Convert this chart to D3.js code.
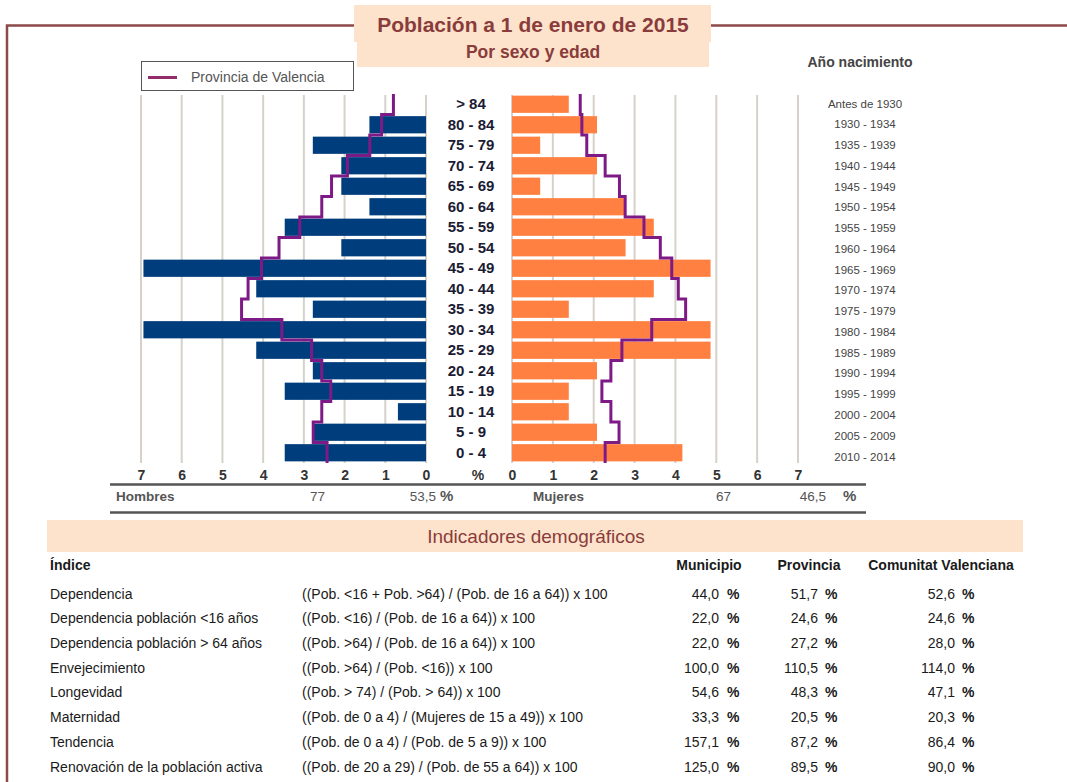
<!DOCTYPE html>
<html>
<head>
<meta charset="utf-8">
<script src="https://cdn.jsdelivr.net/npm/d3@7"></script>
<style>
  body { margin: 0; background: #fff; }
  svg text { font-family: "Liberation Sans", Arial, sans-serif; }
</style>
</head>
<body>
<div id="chart"></div>
<script>
// piramide de poblacion + indicadores

var ageGroups = ["> 84", "80 - 84", "75 - 79", "70 - 74", "65 - 69", "60 - 64", "55 - 59", "50 - 54", "45 - 49",
                 "40 - 44", "35 - 39", "30 - 34", "25 - 29", "20 - 24", "15 - 19", "10 - 14", "5 - 9", "0 - 4"];
var birthYears = ["Antes de 1930", "1930 - 1934", "1935 - 1939", "1940 - 1944", "1945 - 1949", "1950 - 1954",
                  "1955 - 1959", "1960 - 1964", "1965 - 1969", "1970 - 1974", "1975 - 1979", "1980 - 1984",
                  "1985 - 1989", "1990 - 1994", "1995 - 1999", "2000 - 2004", "2005 - 2009", "2010 - 2014"];

var hombres = [0, 1.39, 2.78, 2.08, 2.08, 1.39, 3.47, 2.08, 6.94, 4.17, 2.78, 6.94, 4.17, 2.78, 3.47, 0.69, 2.78, 3.47];
var mujeres = [1.39, 2.08, 0.69, 2.08, 0.69, 2.78, 3.47, 2.78, 4.86, 3.47, 1.39, 4.86, 4.86, 2.08, 1.39, 1.39, 2.08, 4.17];
var provHombres = [0.80, 1.09, 1.38, 1.93, 2.32, 2.56, 3.10, 3.61, 4.04, 4.37, 4.53, 3.54, 2.81, 2.56, 2.34, 2.56, 2.77, 2.43];
var provMujeres = [1.67, 1.71, 1.83, 2.28, 2.63, 2.77, 3.23, 3.63, 3.91, 4.07, 4.25, 3.42, 2.69, 2.42, 2.20, 2.42, 2.62, 2.28];

var pctTicks = [0, 1, 2, 3, 4, 5, 6, 7];
var totalHombres = "77", pctHombres = "53,5";
var totalMujeres = "67", pctMujeres = "46,5";

var indices = ["Dependencia", "Dependencia población <16 años", "Dependencia población > 64 años", "Envejecimiento",
               "Longevidad", "Maternidad", "Tendencia", "Renovación de la población activa"];
var formulas = ["((Pob. <16 + Pob. >64) / (Pob. de 16 a 64)) x 100", "((Pob. <16) / (Pob. de 16 a 64)) x 100",
                "((Pob. >64) / (Pob. de 16 a 64)) x 100", "((Pob. >64) / (Pob. <16)) x 100",
                "((Pob. > 74) / (Pob. > 64)) x 100", "((Pob. de 0 a 4) / (Mujeres de 15 a 49)) x 100",
                "((Pob. de 0 a 4) / (Pob. de 5 a 9)) x 100", "((Pob. de 20 a 29) / (Pob. de 55 a 64)) x 100"];
var municipio = ["44,0", "22,0", "22,0", "100,0", "54,6", "33,3", "157,1", "125,0"];
var provincia = ["51,7", "24,6", "27,2", "110,5", "48,3", "20,5", "87,2", "89,5"];
var comunitat = ["52,6", "24,6", "28,0", "114,0", "47,1", "20,3", "86,4", "90,0"];

var width = 1067, height = 782;
var brown = "#8a3c3c", peach = "#fde3cb", navy = "#003d7c", orange = "#ff8040", purple = "#7e1a86";

var svg = d3.select("#chart").append("svg").attr("width", width).attr("height", height);

// marco
svg.append("path")
    .attr("d", "M7,782 L7,25.5 L355,25.5 M710,25.5 L1067,25.5")
    .attr("fill", "none").attr("stroke", "#8c4a4a").attr("stroke-width", 2.5);

// cabecera
svg.append("rect").attr("x", 354).attr("y", 5).attr("width", 357).attr("height", 37).attr("fill", peach);
svg.append("rect").attr("x", 357).attr("y", 41).attr("width", 352).attr("height", 26).attr("fill", peach);
svg.append("text").attr("x", 533).attr("y", 32).attr("text-anchor", "middle")
    .attr("font-size", 21).attr("font-weight", "bold").attr("fill", brown)
    .text("Población a 1 de enero de 2015");
svg.append("text").attr("x", 533).attr("y", 58).attr("text-anchor", "middle")
    .attr("font-size", 17.5).attr("font-weight", "bold").attr("fill", brown)
    .text("Por sexo y edad");

// leyenda
svg.append("rect").attr("x", 141.5).attr("y", 61.5).attr("width", 212).attr("height", 29)
    .attr("fill", "#fff").attr("stroke", "#555").attr("stroke-width", 1);
svg.append("line").attr("x1", 148).attr("x2", 177).attr("y1", 77.5).attr("y2", 77.5)
    .attr("stroke", "#932c6a").attr("stroke-width", 3);
svg.append("text").attr("x", 191).attr("y", 81.5).attr("font-size", 14).attr("fill", "#555")
    .text("Provincia de Valencia");

svg.append("text").attr("x", 860).attr("y", 67).attr("text-anchor", "middle")
    .attr("font-size", 14).attr("font-weight", "bold").attr("fill", "#444")
    .text("Año nacimiento");

// escalas
var y = d3.scaleBand().domain(ageGroups).range([94, 463]).paddingInner(0.16).paddingOuter(0.08);
var xL = d3.scaleLinear().domain([0, 7]).range([426, 141]);
var xR = d3.scaleLinear().domain([0, 7]).range([512, 798]);
var yBirth = d3.scalePoint().domain(birthYears).range([103.5, 456.5]);

// rejilla
var grid = svg.append("g");
[xL, xR].forEach(function(sc) {
    grid.selectAll(null).data(pctTicks).enter().append("line")
        .attr("x1", function(d) { return sc(d); }).attr("x2", function(d) { return sc(d); })
        .attr("y1", 95).attr("y2", 463)
        .attr("stroke", "#d6d2ca").attr("stroke-width", 2);
});

// barras
svg.append("g").selectAll("rect").data(hombres).enter().append("rect")
    .attr("x", function(d) { return xL(d); })
    .attr("y", function(d, i) { return y(ageGroups[i]); })
    .attr("width", function(d) { return xL(0) - xL(d); })
    .attr("height", y.bandwidth())
    .attr("fill", navy);

svg.append("g").selectAll("rect").data(mujeres).enter().append("rect")
    .attr("x", xR(0))
    .attr("y", function(d, i) { return y(ageGroups[i]); })
    .attr("width", function(d) { return xR(d) - xR(0); })
    .attr("height", y.bandwidth())
    .attr("fill", orange);

// linea provincia (escalonada)
function stepPoints(vals, sc) {
    var pts = [];
    var half = y.step() / 2;
    vals.forEach(function(v, i) {
        var c = y(ageGroups[i]) + y.bandwidth() / 2;
        pts.push([sc(v), c - half]);
        pts.push([sc(v), c + half]);
    });
    return pts;
}
var line = d3.line();
svg.append("path").attr("d", line(stepPoints(provHombres, xL)))
    .attr("fill", "none").attr("stroke", purple).attr("stroke-width", 3);
svg.append("path").attr("d", line(stepPoints(provMujeres, xR)))
    .attr("fill", "none").attr("stroke", purple).attr("stroke-width", 3);

// etiquetas de edad
svg.append("g").selectAll("text").data(ageGroups).enter().append("text")
    .attr("x", 471).attr("y", function(d) { return y(d) + y.bandwidth() / 2 + 5; })
    .attr("text-anchor", "middle").attr("font-size", 15).attr("font-weight", "bold").attr("fill", "#1b1b33")
    .text(function(d) { return d; });

// años de nacimiento
svg.append("g").selectAll("text").data(birthYears).enter().append("text")
    .attr("x", 865).attr("y", function(d) { return yBirth(d) + 4; })
    .attr("text-anchor", "middle").attr("font-size", 11.5).attr("fill", "#444")
    .text(function(d) { return d; });

// ejes
function drawAxis(sc) {
    var g = svg.append("g").attr("transform", "translate(0,470)")
        .call(d3.axisBottom(sc).tickValues(pctTicks).tickSize(0).tickPadding(0).tickFormat(d3.format("d")));
    g.select(".domain").remove();
    g.selectAll("text").attr("font-size", 14).attr("font-weight", "bold").attr("fill", "#333")
        .attr("font-family", "Liberation Sans, Arial, sans-serif");
}
drawAxis(xL);
drawAxis(xR);
svg.append("text").attr("x", 478).attr("y", 480).attr("text-anchor", "middle")
    .attr("font-size", 14).attr("font-weight", "bold").attr("fill", "#333").text("%");

// totales
svg.append("line").attr("x1", 110).attr("x2", 866).attr("y1", 484.5).attr("y2", 484.5)
    .attr("stroke", "#555").attr("stroke-width", 2.5);
svg.append("line").attr("x1", 110).attr("x2", 866).attr("y1", 512.5).attr("y2", 512.5)
    .attr("stroke", "#555").attr("stroke-width", 2.5);

var tot = svg.append("g").attr("font-size", 13.5).attr("fill", "#555");
tot.append("text").attr("x", 116).attr("y", 501).attr("font-weight", "bold").text("Hombres");
tot.append("text").attr("x", 325).attr("y", 501).attr("text-anchor", "end").text(totalHombres);
tot.append("text").attr("x", 436).attr("y", 501).attr("text-anchor", "end").text(pctHombres);
tot.append("text").attr("x", 440).attr("y", 501).attr("font-size", 15).attr("font-weight", "bold").text("%");
tot.append("text").attr("x", 533).attr("y", 501).attr("font-weight", "bold").text("Mujeres");
tot.append("text").attr("x", 731).attr("y", 501).attr("text-anchor", "end").text(totalMujeres);
tot.append("text").attr("x", 826).attr("y", 501).attr("text-anchor", "end").text(pctMujeres);
tot.append("text").attr("x", 843).attr("y", 501).attr("font-size", 15).attr("font-weight", "bold").text("%");

// indicadores
svg.append("rect").attr("x", 47).attr("y", 520).attr("width", 976).attr("height", 32).attr("fill", peach);
svg.append("text").attr("x", 536).attr("y", 543).attr("text-anchor", "middle")
    .attr("font-size", 19).attr("fill", brown).text("Indicadores demográficos");

var head = svg.append("g").attr("font-size", 14).attr("font-weight", "bold").attr("fill", "#1a1a1a");
head.append("text").attr("x", 50).attr("y", 570).text("Índice");
head.append("text").attr("x", 709).attr("y", 570).attr("text-anchor", "middle").text("Municipio");
head.append("text").attr("x", 809).attr("y", 570).attr("text-anchor", "middle").text("Provincia");
head.append("text").attr("x", 941).attr("y", 570).attr("text-anchor", "middle").text("Comunitat Valenciana");

var rowY = d3.scalePoint().domain(indices).range([598.5, 771.5]);
var rows = svg.append("g").attr("font-size", 14).attr("fill", "#1a1a1a")
    .selectAll("g").data(indices).enter().append("g")
    .attr("transform", function(d) { return "translate(0," + rowY(d) + ")"; });

rows.append("text").attr("x", 50).text(function(d) { return d; });
rows.append("text").attr("x", 302).text(function(d, i) { return formulas[i]; });
[[municipio, 719, 727], [provincia, 818, 825], [comunitat, 955, 962]].forEach(function(c) {
    rows.append("text").attr("x", c[1]).attr("text-anchor", "end").text(function(d, i) { return c[0][i]; });
    rows.append("text").attr("x", c[2]).attr("font-weight", "bold").text("%");
});
</script>
</body>
</html>
